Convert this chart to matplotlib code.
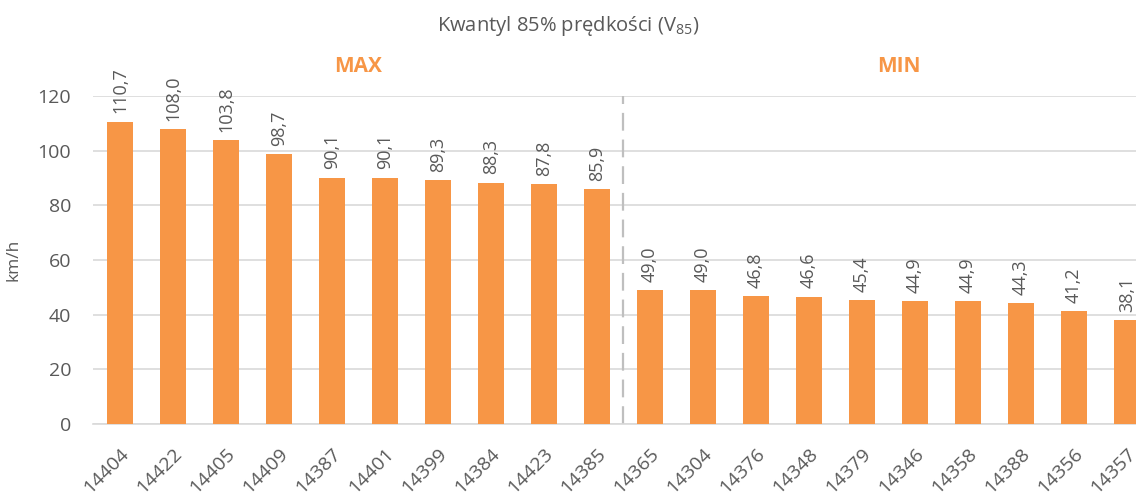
import matplotlib
matplotlib.use("Agg")
import matplotlib.pyplot as plt

plt.rcParams['font.family'] = ['Open Sans', 'DejaVu Sans']
plt.rcParams['mathtext.fontset'] = 'custom'
plt.rcParams['mathtext.rm'] = 'Open Sans'

# dane: przekroje i kwantyl 85%
przekroje = ["14404", "14422", "14405", "14409", "14387", "14401", "14399", "14384", "14423", "14385",
             "14365", "14304", "14376", "14348", "14379", "14346", "14358", "14388", "14356", "14357"]
v85 = [110.7, 108.0, 103.8, 98.7, 90.1, 90.1, 89.3, 88.3, 87.8, 85.9,
       49.0, 49.0, 46.8, 46.6, 45.4, 44.9, 44.9, 44.3, 41.2, 38.1]
y_ticks = [0, 20, 40, 60, 80, 100, 120]

pomarancz = '#F79646'
szary = '#595959'

fig = plt.figure(figsize=(11.36, 4.93), dpi=100)
ax = fig.add_axes([0.0823, 0.140, 0.933, 0.665])

x = list(range(len(v85)))
bars = ax.bar(x, v85, width=0.5, color=pomarancz, zorder=3)

# etykiety danych
for xi, v in zip(x, v85):
    ax.annotate(f"{v:.1f}".replace('.', ','), (xi, v), xytext=(0, 6), textcoords='offset points',
                rotation=90, ha='center', va='bottom', fontsize=13, color=szary, zorder=4)

ax.set_xlim(-0.5, len(v85) - 0.5)
ax.set_ylim(0, 120)
ax.set_yticks(y_ticks)
ax.set_xticks(x)
ax.set_xticklabels(przekroje, rotation=45, ha='right', rotation_mode='anchor', fontsize=14, color=szary)
ax.tick_params(axis='y', length=0, labelsize=14, labelcolor=szary, pad=16)
ax.tick_params(axis='x', length=0, pad=15)

ax.grid(axis='y', color='#D9D9D9', linewidth=1.2, zorder=0)
for s in ['top', 'right', 'left']:
    ax.spines[s].set_visible(False)
ax.spines['bottom'].set_color('#D9D9D9')
ax.spines['bottom'].set_linewidth(1.2)

# linia podziału MAX / MIN
ax.plot([9.5, 9.5], [0, 120], linestyle=(0, (8, 4)), color='#BFBFBF', linewidth=1.6, zorder=2, clip_on=False)

ax.text(4.5, 131, "MAX", ha='center', va='center', fontsize=15, fontweight='bold', color=pomarancz)
ax.text(14.7, 131, "MIN", ha='center', va='center', fontsize=15, fontweight='bold', color=pomarancz)

ax.set_ylabel("km/h", fontsize=12.5, color=szary)
ax.yaxis.set_label_coords(-0.068, 0.5)

fig.text(0.5, 0.947, "Kwantyl 85% prędkości (V$_{85}$)", ha='center', va='center', fontsize=14.5, color=szary)

fig.savefig("out.png", dpi=100)
